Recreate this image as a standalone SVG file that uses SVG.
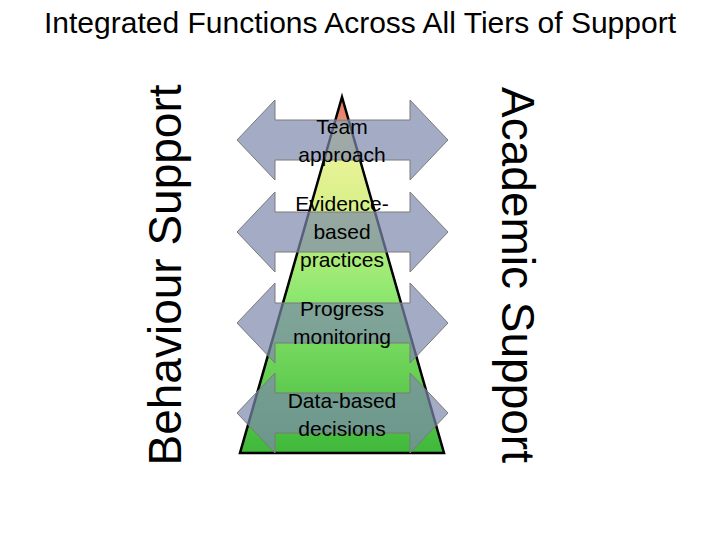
<svg xmlns="http://www.w3.org/2000/svg" width="720" height="540" viewBox="0 0 720 540">
<defs>
<linearGradient id="pg" x1="0" y1="0" x2="0" y2="1">
<stop offset="0" stop-color="#e5705a"/><stop offset="0.06" stop-color="#e88a70"/><stop offset="0.08" stop-color="#f4f4a0"/><stop offset="0.3" stop-color="#d8f08a"/><stop offset="0.55" stop-color="#8fe870"/><stop offset="1" stop-color="#3fb83a"/>
</linearGradient>
<path id="da" d="M237 0 L275 -40 L275 -20 L410 -20 L410 -40 L448 0 L410 40 L410 20 L275 20 L275 40 Z"/>
</defs>
<style>
.a{fill:#7d89ad;fill-opacity:0.7;stroke:#7a7a7a;stroke-width:1}
.t{font-family:"Liberation Sans",Arial,sans-serif;font-size:21px;text-anchor:middle;fill:#000}
.s{font-family:"Liberation Sans",Arial,sans-serif;font-size:46px;text-anchor:middle;fill:#000}
</style>
<rect width="720" height="540" fill="#fff"/>
<text x="360" y="33" font-family="Liberation Sans,Arial,sans-serif" font-size="30" text-anchor="middle">Integrated Functions Across All Tiers of Support</text>
<g id="pyramid"><path d="M342 97 L444 453 L240 453 Z" fill="url(#pg)" stroke="#000" stroke-width="2.5"/></g>
<g id="connectors">
<use href="#da" class="a" y="140"/>
<use href="#da" class="a" y="232"/>
<use href="#da" class="a" y="323"/>
<use href="#da" class="a" y="413"/>
</g>
<g id="n1"><text class="t" x="342" y="134">Team</text><text class="t" x="342" y="162">approach</text></g>
<g id="n2"><text class="t" x="342" y="211">Evidence-</text><text class="t" x="342" y="239">based</text><text class="t" x="342" y="267">practices</text></g>
<g id="n3"><text class="t" x="342" y="316">Progress</text><text class="t" x="342" y="344">monitoring</text></g>
<g id="n4"><text class="t" x="342" y="408">Data-based</text><text class="t" x="342" y="436">decisions</text></g>
<g id="left"><text class="s" transform="translate(181 275) rotate(-90)">Behaviour Support</text></g>
<g id="right"><text class="s" transform="translate(502 275) rotate(90)">Academic Support</text></g>
</svg>
